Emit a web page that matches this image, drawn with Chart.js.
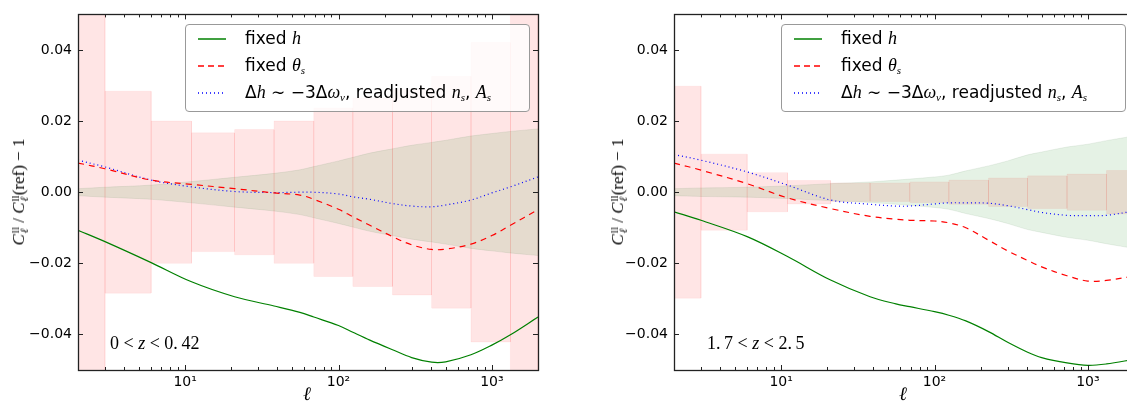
<!DOCTYPE html>
<html>
<head>
<meta charset="utf-8">
<script src="https://cdn.jsdelivr.net/npm/chart.js@4.4.0/dist/chart.umd.min.js"></script>
<style>
html, body { margin: 0; padding: 0; background: #fff; overflow: hidden; width: 1127px; height: 403px; }
canvas { position: absolute; top: 0; }
#c1 { left: 0; }
#c2 { left: 600px; }
.math { font-family: "Liberation Serif", "DejaVu Serif", serif; }
.ylab { position: absolute; white-space: nowrap; font-size: 17px; transform: translate(-50%, -50%) rotate(-90deg); }
.ss { display: inline-block; vertical-align: -4px; line-height: 9px; font-size: 11px; margin-left: 1px; }
.ss span { display: block; }
.xlab { position: absolute; font-size: 19px; font-style: italic; transform: translate(-50%, -50%); }
.note { position: absolute; font-size: 18px; transform: translateY(-50%); white-space: nowrap; }
.legend { position: absolute; top: 24px; width: 343px; height: 86px; border: 1px solid #999; border-radius: 4px;
  background: rgba(255,255,255,0.8); font-family: "DejaVu Sans", sans-serif; font-size: 17px; }
.row { position: absolute; left: 0; height: 20px; white-space: nowrap; }
.row svg { position: absolute; left: 12px; top: 9px; }
.row .t { position: absolute; left: 59px; top: 0; line-height: 20px; }
.row i { font-family: "Liberation Serif", "DejaVu Serif", serif; font-size: 18px; }
.row sub { font-size: 11px; vertical-align: -3px; font-style: italic; font-family: "Liberation Serif", serif; }
</style>
</head>
<body>
<canvas id="c1" width="560" height="403"></canvas>
<canvas id="c2" width="540" height="403"></canvas>

<div class="ylab math" style="left:19px; top:192px;"><i>C</i><span class="ss"><span>ll</span><span><i>ℓ</i></span></span> / <i>C</i><span class="ss"><span>ll</span><span><i>ℓ</i></span></span>(ref) − 1</div>
<div class="ylab math" style="left:618px; top:192px;"><i>C</i><span class="ss"><span>ll</span><span><i>ℓ</i></span></span> / <i>C</i><span class="ss"><span>ll</span><span><i>ℓ</i></span></span>(ref) − 1</div>
<div class="xlab math" style="left:307px; top:394px;">ℓ</div>
<div class="xlab math" style="left:903px; top:394px;">ℓ</div>
<div class="note math" style="left:110px; top:343px;">0 &lt; <i>z</i> &lt; 0.&thinsp;42</div>
<div class="note math" style="left:707px; top:343px;">1.&thinsp;7 &lt; <i>z</i> &lt; 2.&thinsp;5</div>

<div class="legend" id="leg1" style="left:185px;"></div>
<div class="legend" id="leg2" style="left:781px;"></div>

<script>
// multipole bin edges of the error boxes
var binEdges = [2, 3, 6, 11, 21, 38, 69, 124, 225, 405, 731, 1322, 2000];
// half-height of the error box in each bin (0.08 = runs off the axes)
var errLowZ  = [0.08, 0.0284, 0.0200, 0.0167, 0.0176, 0.0200, 0.0237, 0.0265, 0.0289, 0.0326, 0.0421, 0.08];
var errHighZ = [0.0298, 0.0107, 0.0055, 0.0033, 0.0026, 0.0026, 0.0029, 0.0034, 0.0040, 0.0046, 0.0051, 0.0061];

// curves are sampled at these multipoles
var ell = [2, 3, 6, 11, 21, 38, 56, 69, 100, 124, 160, 225, 300, 405, 500, 731, 1000, 1322, 2000];

// 0 < z < 0.42
var fixedH1     = [-0.0107, -0.0139, -0.0198, -0.0252, -0.0294, -0.0320, -0.0338, -0.0351, -0.0375, -0.0394, -0.0416, -0.0443, -0.0465, -0.0478, -0.0477, -0.0457, -0.0430, -0.0401, -0.0351];
var fixedTheta1 = [0.0082, 0.0066, 0.0034, 0.0022, 0.0010, -0.0002, -0.0008, -0.0020, -0.0048, -0.0069, -0.0093, -0.0125, -0.0148, -0.0161, -0.0160, -0.0146, -0.0122, -0.0093, -0.0049];
var readjust1   = [0.0090, 0.0071, 0.0034, 0.0015, 0.0002, -0.0001, 0.0000, 0.0000, -0.0005, -0.0013, -0.0020, -0.0032, -0.0039, -0.0041, -0.0036, -0.0022, -0.0002, 0.0015, 0.0043];
var band1       = [0.0010, 0.0014, 0.0020, 0.0030, 0.0042, 0.0053, 0.0063, 0.0072, 0.0088, 0.0098, 0.0110, 0.0122, 0.0132, 0.0140, 0.0146, 0.0158, 0.0165, 0.0171, 0.0178];

// 1.7 < z < 2.5
var fixedH2     = [-0.0055, -0.0079, -0.0125, -0.0181, -0.0247, -0.0294, -0.0314, -0.0322, -0.0336, -0.0346, -0.0362, -0.0392, -0.0422, -0.0450, -0.0465, -0.0480, -0.0487, -0.0483, -0.0470];
var fixedTheta2 = [0.0082, 0.0062, 0.0024, -0.0016, -0.0046, -0.0068, -0.0076, -0.0079, -0.0081, -0.0086, -0.0100, -0.0135, -0.0165, -0.0192, -0.0210, -0.0235, -0.0250, -0.0248, -0.0236];
var readjust2   = [0.0106, 0.0090, 0.0057, 0.0020, -0.0022, -0.0034, -0.0039, -0.0039, -0.0033, -0.0030, -0.0030, -0.0031, -0.0038, -0.0049, -0.0057, -0.0065, -0.0066, -0.0065, -0.0053];
var band2       = [0.0010, 0.0012, 0.0014, 0.0018, 0.0024, 0.0029, 0.0034, 0.0037, 0.0043, 0.0048, 0.0060, 0.0074, 0.0088, 0.0105, 0.0113, 0.0127, 0.0135, 0.0145, 0.0158];

var xTicks = [10, 100, 1000];
var xTickText = ['10¹', '10²', '10³'];
var yTicks = [-0.04, -0.02, 0, 0.02, 0.04];

function pts(vals, sign) {
  return ell.map(function (l, i) { return {x: l, y: sign * vals[i]}; });
}

function lineSet(vals, color, dash) {
  return {data: pts(vals, 1), borderColor: color, borderWidth: 1.2, borderDash: dash,
    pointRadius: 0, fill: false, tension: 0.35};
}

function bandSets(w) {
  return [
    {data: pts(w, 1), fill: '+1', backgroundColor: 'rgba(0,128,0,0.1)', borderColor: 'rgba(0,90,0,0.08)',
      borderWidth: 1, pointRadius: 0, tension: 0.35},
    {data: pts(w, -1), fill: false, borderColor: 'rgba(0,90,0,0.08)',
      borderWidth: 1, pointRadius: 0, tension: 0.35}
  ];
}

function binSets(errs) {
  return errs.map(function (e, i) {
    var x0 = binEdges[i], x1 = binEdges[i + 1];
    return {
      data: [{x: x0, y: -e}, {x: x0, y: e}, {x: x1, y: e}, {x: x1, y: -e}, {x: x0, y: -e}],
      fill: 'shape', backgroundColor: 'rgba(255,0,0,0.1)', borderColor: 'rgba(255,0,0,0.05)',
      borderWidth: 1, pointRadius: 0, tension: 0
    };
  });
}

// matplotlib-like frame with inward ticks
var frameTicks = {
  id: 'frameTicks',
  afterDraw: function (chart) {
    var ctx = chart.ctx, a = chart.chartArea, xs = chart.scales.x, ys = chart.scales.y;
    ctx.save();
    ctx.strokeStyle = '#222';
    ctx.lineWidth = 1;
    ctx.beginPath();
    for (var d = 1; d <= 1000; d *= 10) {
      for (var m = 1; m < 10; m++) {
        var v = d * m;
        if (v < xs.min || v > xs.max) continue;
        var px = Math.round(xs.getPixelForValue(v)) + 0.5, len = m === 1 ? 5 : 3;
        ctx.moveTo(px, a.bottom); ctx.lineTo(px, a.bottom - len);
        ctx.moveTo(px, a.top); ctx.lineTo(px, a.top + len);
      }
    }
    yTicks.forEach(function (v) {
      var py = Math.round(ys.getPixelForValue(v)) + 0.5;
      ctx.moveTo(a.left, py); ctx.lineTo(a.left + 5, py);
      ctx.moveTo(a.right, py); ctx.lineTo(a.right - 5, py);
    });
    ctx.stroke();
    ctx.lineWidth = 1.3;
    ctx.strokeRect(Math.round(a.left) + 0.5, Math.round(a.top) + 0.5, Math.round(a.right - a.left), Math.round(a.bottom - a.top));
    ctx.restore();
  }
};

function makeChart(id, yWidth, padRight, lines, band, errs) {
  var datasets = [
    lineSet(lines[0], '#008000', []),
    lineSet(lines[1], '#ff0000', [6, 5]),
    lineSet(lines[2], '#0000ff', [1, 3])
  ].concat(bandSets(band)).concat(binSets(errs));

  return new Chart(document.getElementById(id), {
    type: 'line',
    data: {datasets: datasets},
    options: {
      responsive: false,
      animation: false,
      devicePixelRatio: 1,
      layout: {padding: {top: 14, right: padRight, left: 0, bottom: 0}},
      plugins: {legend: {display: false}, tooltip: {enabled: false}},
      scales: {
        x: {
          type: 'logarithmic', min: 2, max: 2000,
          grid: {display: false, drawTicks: false}, border: {display: false},
          afterBuildTicks: function (s) { s.ticks = xTicks.map(function (v) { return {value: v}; }); },
          afterFit: function (s) { s.height = 33; },
          ticks: {
            autoSkip: false, maxRotation: 0, padding: 4, color: '#000',
            font: {family: 'DejaVu Sans', size: 14},
            callback: function (v) { var k = xTicks.indexOf(v); return k < 0 ? '' : xTickText[k]; }
          }
        },
        y: {
          min: -0.05, max: 0.05,
          grid: {display: false, drawTicks: false}, border: {display: false},
          afterBuildTicks: function (s) { s.ticks = yTicks.map(function (v) { return {value: v}; }); },
          afterFit: function (s) { s.width = yWidth; },
          ticks: {
            padding: 6, color: '#000', font: {family: 'DejaVu Sans', size: 14},
            callback: function (v) {
              var t = Math.abs(v).toFixed(2);
              return v < -1e-9 ? '\u2212' + t : t;
            }
          }
        }
      }
    },
    plugins: [frameTicks]
  });
}

makeChart('c1', 78, 22, [fixedH1, fixedTheta1, readjust1], band1, errLowZ);
makeChart('c2', 74, 6, [fixedH2, fixedTheta2, readjust2], band2, errHighZ);

// legends (text contains math, so HTML)
var legendRows = [
  {color: '#008000', dash: '', html: 'fixed <i>h</i>'},
  {color: '#ff0000', dash: '6,4', html: 'fixed <i>θ<sub>s</sub></i>'},
  {color: '#0000ff', dash: '1,3', html: 'Δ<i>h</i> ∼ −3Δ<i>ω<sub>ν</sub></i>, readjusted <i>n<sub>s</sub></i>, <i>A<sub>s</sub></i>'}
];
var rowTops = [3, 30, 57];
['leg1', 'leg2'].forEach(function (id) {
  var box = document.getElementById(id);
  legendRows.forEach(function (r, i) {
    var d = document.createElement('div');
    d.className = 'row';
    d.style.top = rowTops[i] + 'px';
    d.innerHTML = '<svg width="28" height="4"><line x1="0" y1="2" x2="28" y2="2" stroke="' + r.color +
      '" stroke-width="1.5"' + (r.dash ? ' stroke-dasharray="' + r.dash + '"' : '') + '/></svg><span class="t">' + r.html + '</span>';
    box.appendChild(d);
  });
});
</script>
</body>
</html>
